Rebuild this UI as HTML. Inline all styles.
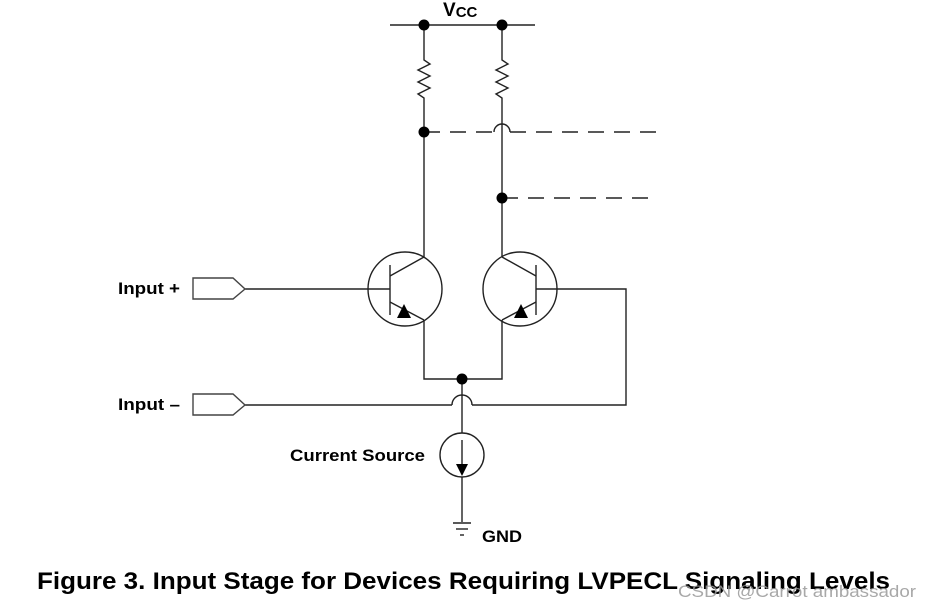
<!DOCTYPE html>
<html><head><meta charset="utf-8"><style>
html,body{margin:0;padding:0;background:#fff;width:932px;height:608px;overflow:hidden}
svg{display:block}
text{font-family:"Liberation Sans",Arial,sans-serif}
</style></head><body>
<svg width="932" height="608" viewBox="0 0 932 608" xmlns="http://www.w3.org/2000/svg">
<g stroke="#222" stroke-width="1.4" fill="none">
<line x1="390" y1="25" x2="535" y2="25"/>
<polyline points="424,25 424,60 430,64 418,70 430,76 418,82 430,88 418,94 424,98 424,257"/>
<polyline points="502,25 502,60 508,64 496,70 508,76 496,82 508,88 496,94 502,98 502,124"/>
<path d="M494,132 A8,8 0 0 1 510,132"/>
<line x1="502" y1="124" x2="502" y2="257"/>
<path d="M424,132 H494 M510,132 H658" stroke-dasharray="16,10"/>
<path d="M502,198 H658" stroke-dasharray="16,10"/>
<circle cx="405" cy="289" r="37"/>
<line x1="390" y1="265" x2="390" y2="315"/>
<line x1="390" y1="276" x2="424" y2="257"/>
<line x1="390" y1="302" x2="424" y2="320"/>
<line x1="245" y1="289" x2="390" y2="289"/>
<polyline points="424,320 424,379 502,379 502,320"/>
<circle cx="520" cy="289" r="37"/>
<line x1="536" y1="265" x2="536" y2="315"/>
<line x1="536" y1="276" x2="502" y2="257"/>
<line x1="536" y1="302" x2="502" y2="320"/>
<polyline points="536,289 626,289 626,405 472,405"/>
<path d="M452,405 A10,10 0 0 1 472,405"/>
<line x1="245" y1="405" x2="452" y2="405"/>
<line x1="462" y1="379" x2="462" y2="433"/>
<circle cx="462" cy="455" r="22"/>
<line x1="462" y1="440" x2="462" y2="466"/>
<line x1="462" y1="477" x2="462" y2="522"/>
<line x1="453" y1="523" x2="471" y2="523"/>
<line x1="456" y1="529" x2="468" y2="529"/>
<line x1="460" y1="535" x2="464" y2="535"/>
<polygon points="193,278 233,278 245,289 233,299 193,299" stroke="#444"/>
<polygon points="193,394 233,394 245,405 233,415 193,415" stroke="#444"/>
</g>
<g fill="#000">
<circle cx="424" cy="25" r="5.5"/>
<circle cx="502" cy="25" r="5.5"/>
<circle cx="424" cy="132" r="5.5"/>
<circle cx="502" cy="198" r="5.5"/>
<circle cx="462" cy="379" r="5.5"/>
<polygon points="397,318 404,304 411,318"/>
<polygon points="514,318 521,304 528,318"/>
<polygon points="456,464 468,464 462,476"/>
</g>
<g font-weight="bold" fill="#000">
<text x="443" y="16" font-size="19">V<tspan font-size="15" dy="1">CC</tspan></text>
<text x="118" y="294" font-size="17" textLength="62" lengthAdjust="spacingAndGlyphs">Input +</text>
<text x="118" y="410" font-size="17" textLength="62" lengthAdjust="spacingAndGlyphs">Input –</text>
<text x="290" y="461" font-size="17" textLength="135" lengthAdjust="spacingAndGlyphs">Current Source</text>
<text x="482" y="542" font-size="17" textLength="40" lengthAdjust="spacingAndGlyphs">GND</text>
<text x="37" y="589" font-size="24" textLength="853" lengthAdjust="spacingAndGlyphs">Figure 3.  Input Stage for Devices Requiring LVPECL Signaling Levels</text>
</g>
<text x="678" y="597" font-size="17" fill="#999" opacity="0.85" textLength="238" lengthAdjust="spacingAndGlyphs">CSDN @Carrot ambassador</text>
</svg>
</body></html>
